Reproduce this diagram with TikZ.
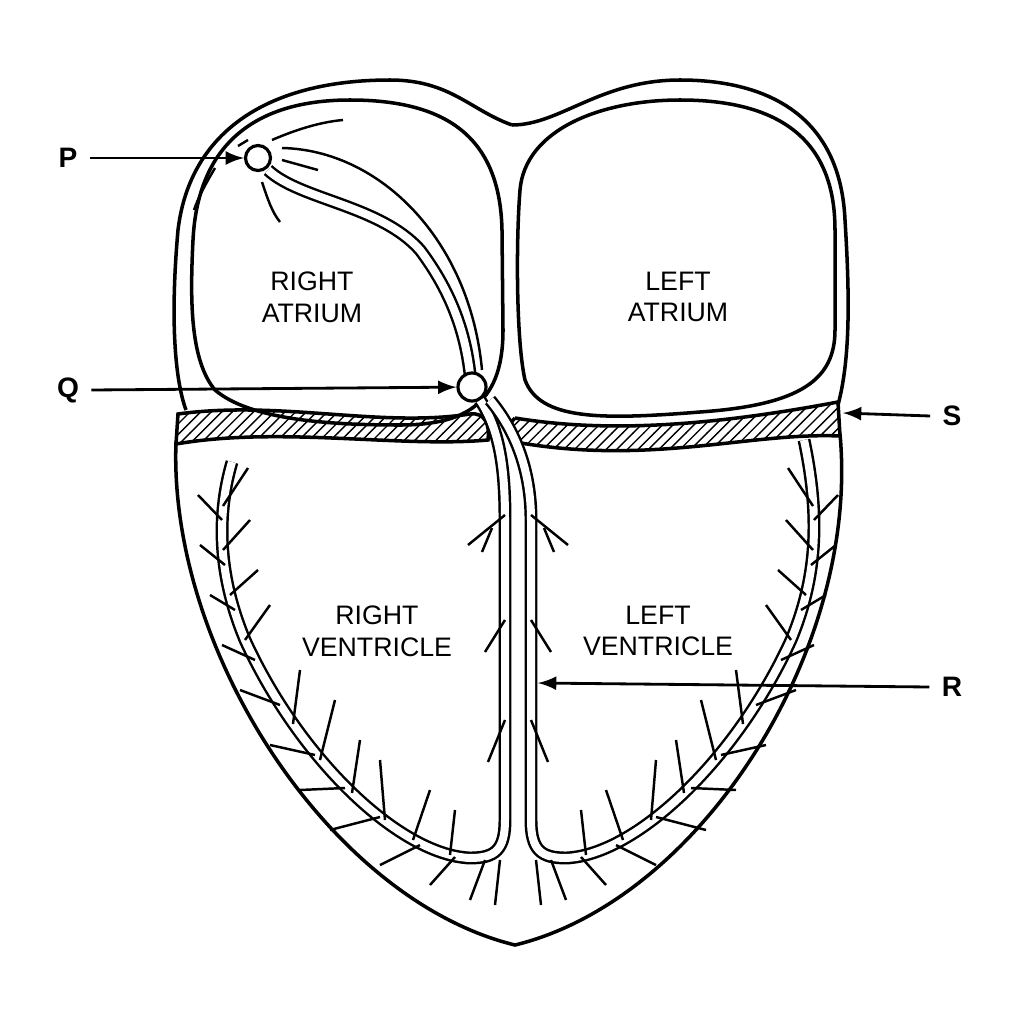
\documentclass[tikz,border=0pt]{standalone}
\usepackage{fontspec}
\setmainfont{Liberation Sans}
\usetikzlibrary{patterns}
\tikzset{
  wall/.style={line width=1pt},
  tube/.style={double, double distance=0.08cm, line width=0.7pt},
  twig/.style={line width=0.7pt},
  cavity/.style={font=\fontsize{7.6pt}{9pt}\selectfont, align=center},
  tag/.style={font=\bfseries\fontsize{8pt}{9pt}\selectfont},
  pointer/.style={-latex, line width=0.8pt},
  knot/.style={circle, draw, line width=0.9pt, fill=white, inner sep=0pt}
}
\begin{document}
\begin{tikzpicture}[x=0.01cm, y=-0.01cm]
  \useasboundingbox (0,0) rectangle (1024,1024);
  % outer wall
  \draw[wall] (512,125) .. controls (470,110) and (450,80) .. (390,80)
      .. controls (270,80) and (190,130) .. (178,230)
      .. controls (170,320) and (175,380) .. (186,410);
  \draw[wall] (838,405) .. controls (850,360) and (850,300) .. (845,220)
      .. controls (840,110) and (760,80) .. (680,80)
      .. controls (600,80) and (560,125) .. (512,125);
  \draw[wall] (176,442) .. controls (168,650) and (330,900) .. (515,945)
      .. controls (700,900) and (860,650) .. (840,434);
  % atria
  \draw[wall] (350,100) .. controls (450,100) and (500,140) .. (502,230)
      -- (503,330) .. controls (503,400) and (470,425) .. (400,425)
      .. controls (330,425) and (250,420) .. (215,390)
      .. controls (190,360) and (190,300) .. (193,240)
      .. controls (198,140) and (260,100) .. (350,100);
  \draw[wall] (680,100) .. controls (780,100) and (835,140) .. (835,230)
      -- (835,330) .. controls (835,380) and (800,405) .. (700,412)
      .. controls (600,420) and (540,420) .. (525,380)
      .. controls (516,340) and (516,240) .. (520,190)
      .. controls (525,130) and (600,100) .. (680,100);
  % fibrous ring
  \draw[wall, pattern=north east lines] (178,414) .. controls (280,400) and (380,428) .. (470,414)
      .. controls (485,412) and (490,425) .. (488,440)
      .. controls (400,448) and (280,426) .. (176,444) -- cycle;
  \draw[wall, pattern=north east lines] (515,418) .. controls (600,432) and (700,428) .. (838,402)
      -- (840,436) .. controls (750,432) and (650,466) .. (515,442)
      .. controls (508,435) and (508,424) .. (515,418);
  % tracts
  \draw[tube] (268,170) .. controls (300,200) and (380,205) .. (420,250)
      .. controls (450,290) and (465,330) .. (470,374);
  \draw[twig] (282,148) .. controls (380,150) and (470,240) .. (482,370);
  \draw[twig] (272,140) .. controls (295,130) and (320,122) .. (343,120);
  \draw[twig] (282,160) -- (318,170);
  \draw[twig] (262,182) .. controls (268,200) and (272,212) .. (280,222);
  \draw[twig] (238,146) -- (248,140);
  \draw[twig] (215,168) .. controls (205,185) and (198,198) .. (194,210);
  % bundle branches
  \draw[tube] (480,400) .. controls (500,430) and (505,470) .. (505,520)
      -- (505,820) .. controls (505,850) and (495,858) .. (470,858)
      .. controls (400,855) and (300,760) .. (245,640)
      .. controls (220,580) and (215,520) .. (232,462);
  \draw[tube] (490,400) .. controls (515,430) and (531,470) .. (531,520)
      -- (531,820) .. controls (531,850) and (541,858) .. (566,858)
      .. controls (636,855) and (736,760) .. (791,640)
      .. controls (816,580) and (821,520) .. (804,440);
  \foreach \xa/\ya/\xb/\yb in {505/515/468/545, 492/528/482/552, 505/620/485/652,
      505/720/488/762, 223/506/248/468, 222/520/198/495, 223/550/250/520,
      225/565/200/545, 230/595/258/570, 235/610/210/595, 245/640/270/605,
      255/660/222/645, 293/724/300/670, 280/705/240/690, 320/760/335/700,
      315/755/270/745, 352/793/360/740, 345/788/300/790, 385/820/380/760,
      380/817/330/830, 413/840/430/790, 420/845/380/865, 450/855/455/810,
      455/857/430/885, 485/860/470/900, 500/860/495/905}{
    \draw[twig] (\xa,\ya) -- (\xb,\yb);
    \draw[twig] ({1036-\xa},\ya) -- ({1036-\xb},\yb);
  }
  % nodes of the conducting system
  \node[knot, minimum size=0.25cm] (sa) at (258,158) {};
  \node[knot, minimum size=0.28cm] (av) at (472,387) {};
  % texts
  \node[cavity] (ra) at (312,297) {RIGHT\\ATRIUM};
  \node[cavity] (la) at (678,297) {LEFT\\ATRIUM};
  \node[cavity] (rv) at (377,631) {RIGHT\\VENTRICLE};
  \node[cavity] (lv) at (658,631) {LEFT\\VENTRICLE};
  \node[tag] (p) at (68,158) {P};
  \node[tag] (q) at (68,390) {Q};
  \node[tag] (r) at (952,687) {R};
  \node[tag] (s) at (952,416) {S};
  \coordinate (rend) at (538,683);
  \coordinate (send) at (843,413);
  \draw[pointer] (p) -- (sa);
  \draw[pointer] (q.east) -- (av);
  \draw[pointer] (r.west) -- (rend);
  \draw[pointer] (s.west) -- (send);
\end{tikzpicture}
\end{document}
